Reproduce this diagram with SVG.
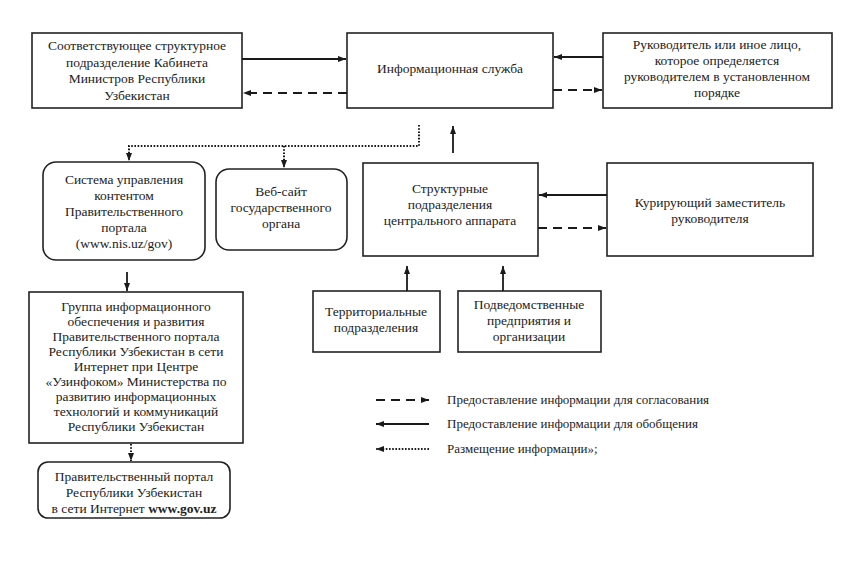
<svg xmlns="http://www.w3.org/2000/svg" width="851" height="566" viewBox="0 0 851 566">
<defs>
<marker id="ah" viewBox="0 0 8 6" refX="8" refY="3" markerWidth="8" markerHeight="6" markerUnits="userSpaceOnUse" orient="auto">
<path d="M0,0 L8,3 L0,6 Z" fill="#1a1a1a"/>
</marker>
</defs>
<style>
.box{fill:#fff;stroke:#222;stroke-width:1.6}
.t{font-family:"Liberation Serif","Times New Roman",serif;font-size:13.5px;fill:#222;text-anchor:middle}
.lt{font-family:"Liberation Serif","Times New Roman",serif;font-size:13px;fill:#222}
.c{fill:none;stroke:#1a1a1a;stroke-width:1.8;marker-end:url(#ah)}
.dash{stroke-dasharray:9 6}
.dot{stroke-dasharray:1.6 1.6;stroke-width:2}
</style>
<rect width="851" height="566" fill="#fff"/>

<g id="cabinet">
<rect class="box" x="32" y="33" width="210" height="75"/>
<text class="t" x="137" y="50">Соответствующее структурное</text>
<text class="t" x="137" y="66.5">подразделение Кабинета</text>
<text class="t" x="137" y="83">Министров Республики</text>
<text class="t" x="137" y="99.5">Узбекистан</text>
</g>

<g id="info-service">
<rect class="box" x="347" y="33" width="206" height="75"/>
<text class="t" x="450" y="73">Информационная служба</text>
</g>

<g id="head">
<rect class="box" x="603" y="33" width="229" height="75"/>
<text class="t" x="717" y="49">Руководитель или иное лицо,</text>
<text class="t" x="717" y="65">которое определяется</text>
<text class="t" x="717" y="81">руководителем в установленном</text>
<text class="t" x="717" y="97">порядке</text>
</g>

<g id="cms">
<rect class="box" x="43" y="162" width="162" height="98" rx="13"/>
<text class="t" x="124" y="184">Система управления</text>
<text class="t" x="124" y="200">контентом</text>
<text class="t" x="124" y="216">Правительственного</text>
<text class="t" x="124" y="232">портала</text>
<text class="t" x="124" y="248">(www.nis.uz/gov)</text>
</g>

<g id="website">
<rect class="box" x="216" y="169" width="131" height="81" rx="13"/>
<text class="t" x="281" y="196">Веб-сайт</text>
<text class="t" x="281" y="212">государственного</text>
<text class="t" x="281" y="228">органа</text>
</g>

<g id="central">
<rect class="box" x="363" y="163" width="175" height="93"/>
<text class="t" x="450" y="193">Структурные</text>
<text class="t" x="450" y="209">подразделения</text>
<text class="t" x="450" y="225">центрального аппарата</text>
</g>

<g id="deputy">
<rect class="box" x="607" y="163" width="206" height="93"/>
<text class="t" x="710" y="207">Курирующий заместитель</text>
<text class="t" x="710" y="223">руководителя</text>
</g>

<g id="territorial">
<rect class="box" x="313" y="291" width="127" height="61"/>
<text class="t" x="376" y="316">Территориальные</text>
<text class="t" x="376" y="332">подразделения</text>
</g>

<g id="subordinate">
<rect class="box" x="458" y="291" width="143" height="61"/>
<text class="t" x="529" y="309">Подведомственные</text>
<text class="t" x="529" y="325">предприятия и</text>
<text class="t" x="529" y="341">организации</text>
</g>

<g id="group">
<rect class="box" x="29" y="292" width="214" height="151"/>
<text class="t" x="136" y="311">Группа информационного</text>
<text class="t" x="136" y="326">обеспечения и развития</text>
<text class="t" x="136" y="341">Правительственного портала</text>
<text class="t" x="136" y="356">Республики Узбекистан в сети</text>
<text class="t" x="136" y="371">Интернет при Центре</text>
<text class="t" x="136" y="386">«Узинфоком» Министерства по</text>
<text class="t" x="136" y="401">развитию информационных</text>
<text class="t" x="136" y="416">технологий и коммуникаций</text>
<text class="t" x="136" y="431">Республики Узбекистан</text>
</g>

<g id="portal">
<rect class="box" x="38" y="462" width="192" height="56" rx="10"/>
<text class="t" x="134" y="481">Правительственный портал</text>
<text class="t" x="134" y="497">Республики Узбекистан</text>
<text class="t" x="134" y="513">в сети Интернет <tspan font-weight="bold">www.gov.uz</tspan></text>
</g>

<g id="connectors">
<path class="c" d="M242,59 H346"/>
<path class="c dash" d="M347,93 H243"/>
<path class="c" d="M603,57 H554"/>
<path class="c dash" d="M553,90 H602"/>
<path class="c dot" d="M419,125 V146 H129 V161"/>
<path class="c dot" d="M284,146 V168"/>
<path class="c" d="M453,153 V126"/>
<path class="c" d="M607,195 H539"/>
<path class="c dash" d="M538,228 H606"/>
<path class="c" d="M407,291 V266"/>
<path class="c" d="M503,291 V266"/>
<path class="c" d="M127,272 V291"/>
<path class="c dot" d="M131,444 V461"/>
</g>

<g id="legend">
<path class="c dash" d="M376,400 H429"/>
<path class="c" d="M429,424 H376"/>
<path class="c dot" d="M429,449 H376"/>
<text class="lt" x="447" y="404">Предоставление информации для согласования</text>
<text class="lt" x="447" y="428">Предоставление информации для обобщения</text>
<text class="lt" x="447" y="453">Размещение информации»;</text>
</g>
</svg>
